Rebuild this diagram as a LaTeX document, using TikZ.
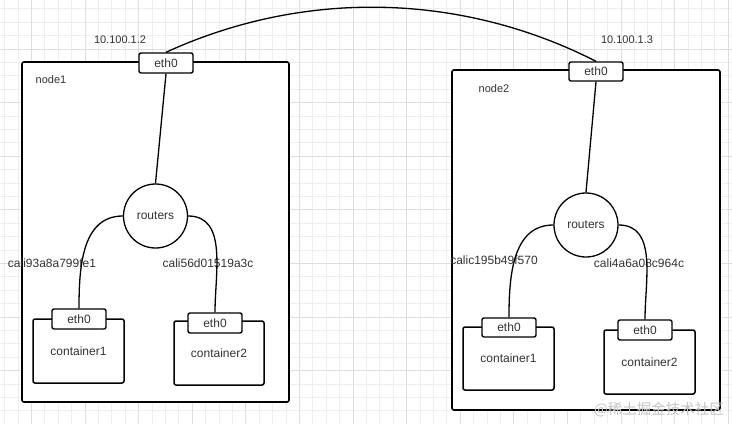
\documentclass[tikz,border=0pt]{standalone}
\usepackage{fontspec}
\setmainfont{Liberation Sans}
\newfontfamily\cjkfont{Noto Sans CJK SC}
\usetikzlibrary{calc}
\definecolor{txt}{HTML}{333333}
\definecolor{gridminor}{HTML}{EEEEEE}
\definecolor{gridmajor}{HTML}{DEDEDE}
\definecolor{wm}{HTML}{C4C4C4}
\tikzset{
  hostbox/.style={draw=black, line width=1.6pt, fill=white, rounded corners=2pt, inner sep=0pt},
  ctrbox/.style={draw=black, line width=1.5pt, fill=white, rounded corners=2pt, inner sep=0pt, minimum width=91pt, minimum height=64pt, text=txt, font=\fontsize{12}{14}\selectfont},
  ethbox/.style={draw=black, line width=1.4pt, fill=white, rounded corners=2pt, inner sep=0pt, minimum width=54pt, minimum height=20pt, text=txt, font=\fontsize{12}{14}\selectfont},
  rtr/.style={circle, draw=black, line width=1.3pt, fill=white, inner sep=0pt, minimum size=64pt, text=txt, font=\fontsize{12}{14}\selectfont},
  lbl/.style={text=txt, inner sep=0pt, font=\fontsize{12}{14}\selectfont},
  iplbl/.style={text=txt, inner sep=0pt, font=\fontsize{11}{13}\selectfont},
  wire/.style={draw=black, line width=1.3pt},
}
\begin{document}
\begin{tikzpicture}[x=1pt,y=-1pt]
\useasboundingbox (0,0) rectangle (732,424);
\fill[white] (0,0) rectangle (732,424);
% grid
\foreach \x in {4.6,18.0,...,732} \draw[gridminor, line width=0.8pt] (\x,0) -- (\x,424);
\foreach \y in {8.8,22.2,...,424} \draw[gridminor, line width=0.8pt] (0,\y) -- (732,\y);
\foreach \x in {31.4,85.0,...,732} \draw[gridmajor, line width=0.9pt] (\x,0) -- (\x,424);
\foreach \y in {-4.6,49.0,...,424} \draw[gridmajor, line width=0.9pt] (0,\y) -- (732,\y);

% host boxes
\node[hostbox, minimum width=267pt, minimum height=340pt] (n1) at (155.5,232) {};
\node[hostbox, minimum width=268pt, minimum height=340pt] (n2) at (586,240) {};

\node[iplbl] (n1lbl) at (51,80) {node1};
\node[iplbl] (n2lbl) at (494,89) {node2};
\node[iplbl] (ip1) at (120,40) {10.100.1.2};
\node[iplbl] (ip2) at (627,40) {10.100.1.3};

% labels of veth
\node[lbl] (v11) at (52,263) {cali93a8a799fe1};
\node[lbl] (v12) at (208,263) {cali56d01519a3c};
\node[lbl] (v21) at (494,260) {calic195b49f570};
\node[lbl] (v22) at (639,263) {cali4a6a08c964c};

% containers
\node[ctrbox] (c11) at (78.5,351) {container1};
\node[ctrbox, minimum width=90pt] (c12) at (219,353) {container2};
\node[ctrbox, minimum height=63pt] (c21) at (508.5,358.5) {container1};
\node[ctrbox] (c22) at (649.5,362) {container2};

% eth0 boxes
\node[ethbox] (e1) at (166,63) {eth0};
\node[ethbox, minimum height=19pt] (e2) at (596,71.5) {eth0};
\node[ethbox] (c11e) at (79,319) {eth0};
\node[ethbox] (c12e) at (215,323) {eth0};
\node[ethbox, minimum height=19pt] (c21e) at (509,327.5) {eth0};
\node[ethbox] (c22e) at (645,330) {eth0};

% routers
\node[rtr] (r1) at (155.5,216) {routers};
\node[rtr] (r2) at (586,225) {routers};

% connectors
\draw[wire] (e1.south) -- (r1.north);
\draw[wire] (e2.south) -- (r2.north);
\draw[wire] (r1.west) .. controls ($(r1.west)+(-41,0)$) and ($(c11e.north)+(0,-41)$) .. (c11e.north);
\draw[wire] (r1.east) .. controls ($(r1.east)+(39.5,0)$) and ($(c12e.north)+(0,-39.5)$) .. (c12e.north);
\draw[wire] (r2.west) .. controls ($(r2.west)+(-41,0)$) and ($(c21e.north)+(0,-41)$) .. (c21e.north);
\draw[wire] (r2.east) .. controls ($(r2.east)+(39,0)$) and ($(c22e.north)+(0,-39)$) .. (c22e.north);
\draw[wire] (e1.north) .. controls (303.7,-10.9) and (461,-7.5) .. (e2.north);

% watermark
\node[text=wm, inner sep=0pt, font=\cjkfont\fontsize{14.5}{16}\selectfont] (wmk) at (659,410) {@稀土掘金技术社区};
\end{tikzpicture}
\end{document}
